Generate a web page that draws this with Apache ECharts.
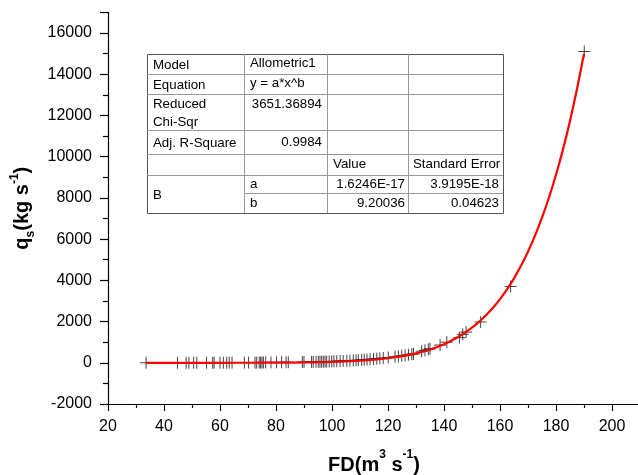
<!DOCTYPE html>
<html>
<head>
<meta charset="utf-8">
<script src="https://cdn.jsdelivr.net/npm/echarts@6/dist/echarts.min.js"></script>
<style>
html,body{margin:0;padding:0;background:#fff;}
#c{width:638px;height:475px;}
</style>
</head>
<body>
<div id="c"></div>
<script>
// Measured data points (FD, qs)
var pointX = [33.6,44.8,47.9,48.9,50.6,51.7,55.2,57.4,57.9,60,61.2,62.4,63.3,64.3,68.7,70.2,72.5,73.1,74,74.5,75,75.5,76.3,78.2,80.2,82,83.6,84.4,
  89.4,90,92.7,93.3,94.3,95.1,95.7,96.3,96.9,97.5,98.1,99,99.9,100.7,101.7,102.9,104,105.3,106.4,107.6,108.6,109.4,110.6,111.5,112.5,
  113.6,114.8,116,117.1,118.3,120.1,122.5,123.7,124.9,126.1,127.3,128.5,129.1,132,133.2,134.4,135,138.6,141,145.5,146.7,147.9,153.1,163.8,190.1];
var pointY = [0,0,0,1,1,1,2,2,3,3,4,4,5,5,8,9,10,11,12,12,13,14,15,17,20,22,25,26,
  35,36,42,44,46,48,50,52,54,56,58,62,66,70,75,82,88,96,104,113,121,128,140,150,160,
  172,186,200,215,232,258,295,316,338,362,388,414,428,560,600,650,680,860,1000,1220,1380,1490,1980,3700,15100];
// Fit curve
var curveX = [33.6,40,50,60,70,80,90,95,100,105,110,115,120,125,130,135,140,145,150,152.5,155,157.5,160,162.5,165,167.5,170,172.5,175,177.5,180,182.5,185,187.5,190];
var curveY = [0,0,0.05,0.4,1.5,5,16,26,41,64,98,148,219,319,457,646,904,1248,1704,1985,2304,2670,3086,3559,4096,4703,5392,6168,7039,8019,9121,10353,11736,13281,14998];
// Fit table texts
var tableRows = [
  ["Model","Allometric1","",""],
  ["Equation","y = a*x^b","",""],
  ["Reduced\nChi-Sqr","3651.36894","",""],
  ["Adj. R-Square","0.9984","",""],
  ["","","Value","Standard Error"],
  ["B","a","1.6246E-17","3.9195E-18"],
  ["","b","9.20036","0.04623"]
];

var FONT = '"Liberation Sans", Arial, sans-serif';
var chart = echarts.init(document.getElementById('c'), null, {renderer:'canvas'});

var pts = pointX.map(function(x,i){return [x, pointY[i]];});
var crv = curveX.map(function(x,i){return [x, curveY[i]];});

// Table graphics
var g = [];
g.push({type:'rect', shape:{x:147.5,y:54.5,width:356,height:159}, style:{fill:'#fff', stroke:'#555', lineWidth:1}, z:10});
[244,327,408].forEach(function(x){
  g.push({type:'line', shape:{x1:x+0.5,y1:54,x2:x+0.5,y2:213}, style:{stroke:'#999',lineWidth:1}, z:11});
});
[74,94,130,154,175].forEach(function(y){
  g.push({type:'line', shape:{x1:147,y1:y+0.5,x2:503,y2:y+0.5}, style:{stroke:'#999',lineWidth:1}, z:11});
});
g.push({type:'line', shape:{x1:244,y1:193.5,x2:503,y2:193.5}, style:{stroke:'#999',lineWidth:1}, z:11});
function txt(s, x, y, align){
  g.push({type:'text', x:x, y:y, z:12, style:{text:s, font:'13.3px '+FONT, fill:'#000', textAlign:align||'left', textVerticalAlign:'middle'}});
}
txt(tableRows[0][0],153,65); txt(tableRows[0][1],250,63);
txt(tableRows[1][0],153,85); txt(tableRows[1][1],250,83);
txt('Reduced',153,104); txt('Chi-Sqr',153,122); txt(tableRows[2][1],322,104,'right');
txt(tableRows[3][0],153,143); txt(tableRows[3][1],322,142,'right');
txt(tableRows[4][2],333,164); txt(tableRows[4][3],413,164);
txt(tableRows[5][0],153,195); txt(tableRows[5][1],250,184);
txt(tableRows[5][2],405,184,'right'); txt(tableRows[5][3],499,184,'right');
txt(tableRows[6][1],250,203);
txt(tableRows[6][2],405,203,'right'); txt(tableRows[6][3],499,203,'right');

function plain(v){ return String(v); }

var option = {
  animation:false,
  backgroundColor:'#fff',
  grid:{left:108, right:-2, top:12.4, bottom:71, containLabel:false, outerBoundsMode:'none'},
  xAxis:{
    type:'value', min:20, max:210, interval:20,
    name:'{b|FD(m}{sup|3}{b| s}{sup|-1}{b|)}',
    nameLocation:'middle', nameGap:45,
    nameTextStyle:{rich:{
      b:{fontFamily:FONT, fontSize:20, fontWeight:'bold', color:'#000', lineHeight:26, verticalAlign:'bottom'},
      sup:{fontFamily:FONT, fontSize:12, fontWeight:'bold', color:'#000', lineHeight:26, verticalAlign:'top'}
    }},
    axisLine:{onZero:false, lineStyle:{color:'#000', width:1.2}},
    axisTick:{show:true, length:7, lineStyle:{color:'#000', width:1.2}},
    minorTick:{show:true, splitNumber:2, length:4, lineStyle:{color:'#000', width:1.2}},
    axisLabel:{fontFamily:FONT, fontSize:16, color:'#000', margin:15, showMaxLabel:false, formatter:plain},
    splitLine:{show:false}
  },
  yAxis:{
    type:'value', min:-2000, max:17000, interval:2000,
    name:'{b|q}{sub|s}{b|(kg s}{sup|-1}{b|)}',
    nameLocation:'middle', nameGap:63, nameRotate:90,
    nameTextStyle:{rich:{
      b:{fontFamily:FONT, fontSize:20, fontWeight:'bold', color:'#000', lineHeight:28, verticalAlign:'middle'},
      sub:{fontFamily:FONT, fontSize:12, fontWeight:'bold', color:'#000', lineHeight:28, verticalAlign:'bottom'},
      sup:{fontFamily:FONT, fontSize:12, fontWeight:'bold', color:'#000', lineHeight:28, verticalAlign:'top'}
    }},
    axisLine:{onZero:false, lineStyle:{color:'#000', width:1.2}},
    axisTick:{show:true, length:8, lineStyle:{color:'#000', width:1.2}},
    minorTick:{show:true, splitNumber:2, length:5, lineStyle:{color:'#000', width:1.2}},
    axisLabel:{fontFamily:FONT, fontSize:16, color:'#000', margin:16, showMaxLabel:false, formatter:plain},
    splitLine:{show:false}
  },
  series:[
    {type:'scatter', data:pts, symbol:'path://M6,0L6,12M0,6L12,6', symbolSize:12,
     itemStyle:{color:'none', borderColor:'#222', borderWidth:1, opacity:0.85}, z:2},
    {type:'line', data:crv, smooth:0.3, showSymbol:false,
     lineStyle:{color:'#ff0000', width:2.2}, z:3}
  ],
  graphic:g
};
chart.setOption(option);
</script>
</body>
</html>
